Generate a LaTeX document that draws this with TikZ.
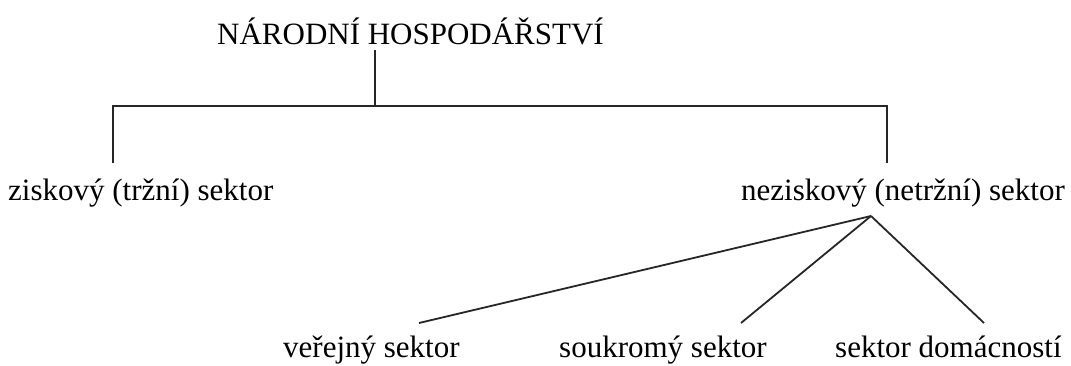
\documentclass[tikz,border=0pt]{standalone}
\usepackage{fontspec}
\setmainfont{Liberation Serif}
\begin{document}
\begin{tikzpicture}[x=1pt,y=-1pt,
  lbl/.style={anchor=base west,inner sep=0pt,font=\fontsize{31}{36}\selectfont},
  conn/.style={line width=1.8pt,black!85}]
\useasboundingbox (0,0) rectangle (1071,365);
\node[lbl] (root) at (217,44) {NÁRODNÍ HOSPODÁŘSTVÍ};
\node[lbl] (zisk) at (8,200) {ziskový (tržní) sektor};
\node[lbl] (nezisk) at (741,200) {neziskový (netržní) sektor};
\node[lbl] (verej) at (283,357) {veřejný sektor};
\node[lbl] (soukr) at (559,357) {soukromý sektor};
\node[lbl] (domac) at (835,357) {sektor domácností};
\coordinate (r0) at (375,50);
\coordinate (j0) at (375,106);
\coordinate (jl) at (113,106);
\coordinate (jr) at (887,106);
\coordinate (zl) at (113,163);
\coordinate (nr) at (887,163);
\coordinate (apex) at (871,216);
\coordinate (ev) at (419,323);
\coordinate (es) at (741,323);
\coordinate (ed) at (984,323);
\draw[conn] (r0) -- (j0);
\draw[conn] (zl) -- (jl) -- (jr) -- (nr);
\draw[conn] (apex) -- (ev);
\draw[conn] (apex) -- (es);
\draw[conn] (apex) -- (ed);
\end{tikzpicture}
\end{document}
